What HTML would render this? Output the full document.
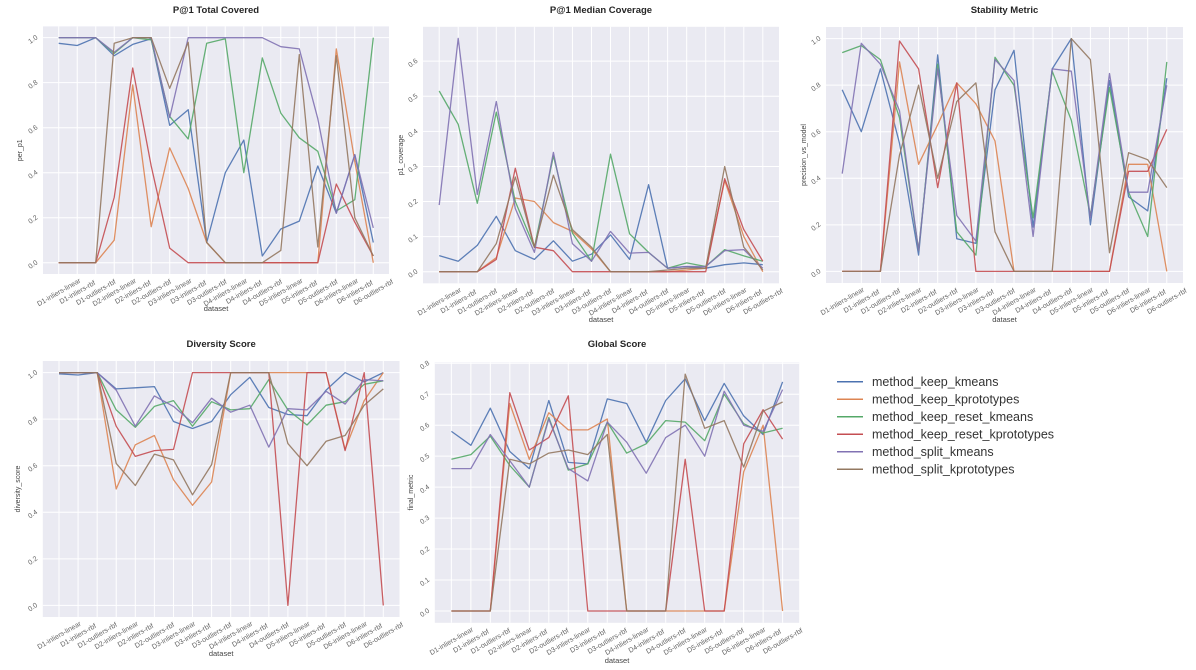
<!DOCTYPE html>
<html><head><meta charset="utf-8"><style>
html,body{margin:0;padding:0;background:#fff;}
svg{display:block;font-family:"Liberation Sans",sans-serif;}
</style></head><body>
<svg id="fig" width="1196" height="670" viewBox="0 0 1196 670" xmlns="http://www.w3.org/2000/svg"></svg>
<script>
const categories=["D1-inliers-linear","D1-inliers-rbf","D1-outliers-rbf","D2-inliers-linear","D2-inliers-rbf","D2-outliers-rbf","D3-inliers-linear","D3-inliers-rbf","D3-outliers-rbf","D4-inliers-linear","D4-inliers-rbf","D4-outliers-rbf","D5-inliers-linear","D5-inliers-rbf","D5-outliers-rbf","D6-inliers-linear","D6-inliers-rbf","D6-outliers-rbf"];
const seriesNames=["method_keep_kmeans","method_keep_kprototypes","method_keep_reset_kmeans","method_keep_reset_kprototypes","method_split_kmeans","method_split_kprototypes"];
const colors=["#4c72b0","#dd8452","#55a868","#c44e52","#8172b3","#937860"];
// P@1 Total Covered
const p1Kmeans=[0.975,0.965,1.0,0.92,0.97,0.995,0.61,0.68,0.09,0.40,0.545,0.03,0.15,0.185,0.43,0.22,0.48,0.09];
const p1Kproto=[0,0,0,0.10,0.79,0.16,0.51,0.33,0.09,0,0,0,0,0,0,0.95,0.45,0.0];
const p1ResetKmeans=[1,1,1,0.93,1,0.99,0.65,0.55,0.975,0.995,0.40,0.91,0.665,0.555,0.495,0.23,0.28,1.0];
const p1ResetKproto=[0,0,0,0.29,0.865,0.43,0.065,0,0,0,0,0,0,0,0,0.35,0.18,0.03];
const p1SplitKmeans=[1,1,1,0.935,1,1,0.645,1,1,1,1,1,0.96,0.95,0.64,0.22,0.48,0.155];
const p1SplitKproto=[0,0,0,0.975,1,1,0.775,0.98,0.09,0,0,0,0.055,0.925,0.07,0.92,0.20,0.03];
// P@1 Median Coverage
const medKmeans=[0.046,0.03,0.075,0.158,0.06,0.035,0.088,0.03,0.05,0.105,0.035,0.248,0.01,0.015,0.01,0.02,0.025,0.02];
const medKproto=[0,0,0,0.04,0.21,0.20,0.14,0.115,0.065,0,0,0,0,0.005,0.01,0.26,0.10,0.0];
const medResetKmeans=[0.515,0.42,0.195,0.455,0.2,0.07,0.33,0.11,0.03,0.335,0.108,0.055,0.01,0.025,0.015,0.063,0.045,0.03];
const medResetKproto=[0,0,0,0.035,0.295,0.07,0.06,0,0,0,0,0,0,0,0,0.265,0.12,0.03];
const medSplitKmeans=[0.19,0.665,0.22,0.485,0.18,0.055,0.34,0.08,0.03,0.115,0.053,0.055,0.01,0.015,0.015,0.06,0.063,0.01];
const medSplitKproto=[0,0,0,0.08,0.27,0.07,0.275,0.12,0.07,0,0,0,0.005,0.01,0.01,0.30,0.07,0.005];
// Stability Metric
const stabKmeans=[0.78,0.60,0.87,0.55,0.07,0.93,0.14,0.12,0.78,0.95,0.19,0.87,1.0,0.20,0.82,0.32,0.26,0.83];
const stabKproto=[0,0,0,0.90,0.46,0.63,0.81,0.72,0.56,0,0,0,0,0,0,0.46,0.46,0.0];
const stabResetKmeans=[0.94,0.97,0.91,0.66,0.09,0.89,0.17,0.07,0.92,0.80,0.23,0.86,0.65,0.24,0.79,0.34,0.15,0.90];
const stabResetKproto=[0,0,0,0.99,0.87,0.36,0.81,0,0,0,0,0,0,0,0,0.43,0.43,0.61];
const stabSplitKmeans=[0.42,0.98,0.89,0.69,0.09,0.87,0.24,0.13,0.91,0.82,0.15,0.87,0.86,0.23,0.85,0.34,0.34,0.80];
const stabSplitKproto=[0,0,0,0.50,0.80,0.40,0.73,0.81,0.17,0,0,0,1.0,0.91,0.08,0.51,0.48,0.36];
// Diversity Score
const divKmeans=[0.995,0.99,1.0,0.93,0.935,0.94,0.79,0.76,0.79,0.905,0.98,0.85,0.82,0.815,0.925,1.0,0.96,1.0];
const divKproto=[1,1,1,0.50,0.69,0.73,0.54,0.43,0.53,1,1,1,1,1,1,0.67,0.88,1.0];
const divResetKmeans=[1,1,1,0.84,0.765,0.855,0.88,0.77,0.875,0.84,0.845,0.97,0.84,0.775,0.86,0.875,0.95,0.965];
const divResetKproto=[1,1,1,0.77,0.64,0.665,0.67,1,1,1,1,1,0,1,1,0.665,1.0,0.0];
const divSplitKmeans=[1,1,1,0.925,0.77,0.90,0.855,0.785,0.89,0.83,0.86,0.68,0.845,0.84,0.92,0.865,0.97,0.965];
const divSplitKproto=[1,1,1,0.61,0.515,0.65,0.625,0.475,0.605,1,1,1,0.695,0.60,0.705,0.73,0.86,0.93];
// Global Score
const glKmeans=[0.58,0.535,0.655,0.515,0.46,0.68,0.48,0.475,0.685,0.67,0.545,0.68,0.75,0.615,0.735,0.63,0.57,0.74];
const glKproto=[0,0,0,0.67,0.49,0.64,0.585,0.585,0.62,0,0,0,0,0,0,0.45,0.60,0.0];
const glResetKmeans=[0.49,0.505,0.565,0.47,0.40,0.625,0.455,0.475,0.61,0.51,0.54,0.615,0.61,0.55,0.70,0.605,0.575,0.59];
const glResetKproto=[0,0,0,0.705,0.52,0.56,0.695,0,0,0,0,0,0.49,0,0,0.54,0.65,0.555];
const glSplitKmeans=[0.46,0.46,0.57,0.485,0.40,0.62,0.46,0.42,0.61,0.545,0.445,0.56,0.60,0.50,0.71,0.60,0.58,0.715];
const glSplitKproto=[0,0,0,0.49,0.475,0.51,0.52,0.505,0.57,0,0,0,0.765,0.59,0.615,0.465,0.645,0.675];
const ticks1=[0,0.2,0.4,0.6,0.8,1.0];
const ticks2=[0,0.1,0.2,0.3,0.4,0.5,0.6];
const ticks5=[0,0.1,0.2,0.3,0.4,0.5,0.6,0.7,0.8];

const NS="http://www.w3.org/2000/svg";
const fig=document.getElementById('fig');
function mk(tag,attrs,parent){const e=document.createElementNS(NS,tag);for(const k in attrs)e.setAttribute(k,attrs[k]);(parent||fig).appendChild(e);return e;}

const panels=[
 {name:"total-covered",title:"P@1 Total Covered",ylabel:"per_p1",L:43,R:389,T:26.4,B:274,ymin:-0.05,ymax:1.05,ticks:ticks1,dec:1,data:[p1Kmeans,p1Kproto,p1ResetKmeans,p1ResetKproto,p1SplitKmeans,p1SplitKproto],ylx:22,titleY:13,xlY:311},
 {name:"median-coverage",title:"P@1 Median Coverage",ylabel:"p1_coverage",L:423,R:779,T:26.8,B:283.3,ymin:-0.033,ymax:0.698,ticks:ticks2,dec:1,data:[medKmeans,medKproto,medResetKmeans,medResetKproto,medSplitKmeans,medSplitKproto],ylx:403,titleY:13,xlY:322},
 {name:"stability-metric",title:"Stability Metric",ylabel:"precision_vs_model",L:826,R:1183,T:27,B:283,ymin:-0.05,ymax:1.05,ticks:ticks1,dec:1,data:[stabKmeans,stabKproto,stabResetKmeans,stabResetKproto,stabSplitKmeans,stabSplitKproto],ylx:806,titleY:13,xlY:322},
 {name:"diversity-score",title:"Diversity Score",ylabel:"diversity_score",L:42.8,R:399.5,T:361,B:617,ymin:-0.05,ymax:1.05,ticks:ticks1,dec:1,data:[divKmeans,divKproto,divResetKmeans,divResetKproto,divSplitKmeans,divSplitKproto],ylx:20,titleY:347,xlY:656},
 {name:"global-score",title:"Global Score",ylabel:"final_metric",L:434.8,R:799.2,T:362.3,B:622.8,ymin:-0.03825,ymax:0.80325,ticks:ticks5,dec:1,data:[glKmeans,glKproto,glResetKmeans,glResetKproto,glSplitKmeans,glSplitKproto],ylx:413,titleY:347,xlY:663}
];

panels.forEach(p=>{
 const g=mk('g',{});
 
 
 const n=categories.length;
 const x0=p.L+(p.R-p.L)*0.0454545, x1=p.R-(p.R-p.L)*0.0454545;
 const xs=i=>x0+(x1-x0)*i/(n-1);
 const ys=v=>p.B-(v-p.ymin)/(p.ymax-p.ymin)*(p.B-p.T);
 const bg=mk('rect',{x:p.L,y:p.T,width:p.R-p.L,height:p.B-p.T,fill:'#eaeaf2'},g);
 
 
 p.ticks.forEach(t=>{
  const y=ys(t);
  mk('line',{x1:p.L,x2:p.R,y1:y,y2:y,stroke:'#fff','stroke-width':1},g);
  const tx=mk('text',{x:p.L-6,y:y+3,'font-size':7,fill:'#666','text-anchor':'end',transform:`rotate(-35 ${p.L-9} ${y})`},g);
  tx.textContent=t.toFixed(p.dec);
  
  
 });
 categories.forEach((c,i)=>{
  const x=xs(i);
  mk('line',{x1:x,x2:x,y1:p.T,y2:p.B,stroke:'#fff','stroke-width':1},g);
  const cy=p.B+18;
  const tx=mk('text',{x:x,y:cy+2.5,'font-size':7,fill:'#666','text-anchor':'middle',transform:`rotate(-30 ${x} ${cy})`},g);
  tx.textContent=c;
  
  
 });
 p.data.forEach((arr,si)=>{
  const pts=arr.map((v,i)=>xs(i).toFixed(1)+','+ys(v).toFixed(1)).join(' ');
  const pl=mk('polyline',{points:pts,fill:'none',stroke:colors[si],'stroke-width':1.3,'stroke-opacity':0.9,'stroke-linejoin':'round'},g);
  
  
 });
 const ti=mk('text',{x:(p.L+p.R)/2,y:p.titleY,'font-size':9.5,'font-weight':'bold',fill:'#262626','text-anchor':'middle'},g);
 ti.textContent=p.title;
 
 
 const yc=(p.T+p.B)/2;
 const yl=mk('text',{x:p.ylx,y:yc,'font-size':7,fill:'#444','text-anchor':'middle',transform:`rotate(-90 ${p.ylx} ${yc})`},g);
 yl.textContent=p.ylabel;
 
 
 const xl=mk('text',{x:(p.L+p.R)/2,y:p.xlY,'font-size':7.5,fill:'#444','text-anchor':'middle'},g);
 xl.textContent='dataset';
 
 
});

const lg=mk('g',{});


seriesNames.forEach((s,i)=>{
 const y=381.7+i*17.5;
 const ln=mk('line',{x1:837,x2:863,y1:y,y2:y,stroke:colors[i],'stroke-width':1.5},lg);
 
 
 const t=mk('text',{x:872,y:y+4.5,'font-size':12.5,fill:'#333'},lg);
 t.textContent=s;
 
 
});
</script>
</body></html>
